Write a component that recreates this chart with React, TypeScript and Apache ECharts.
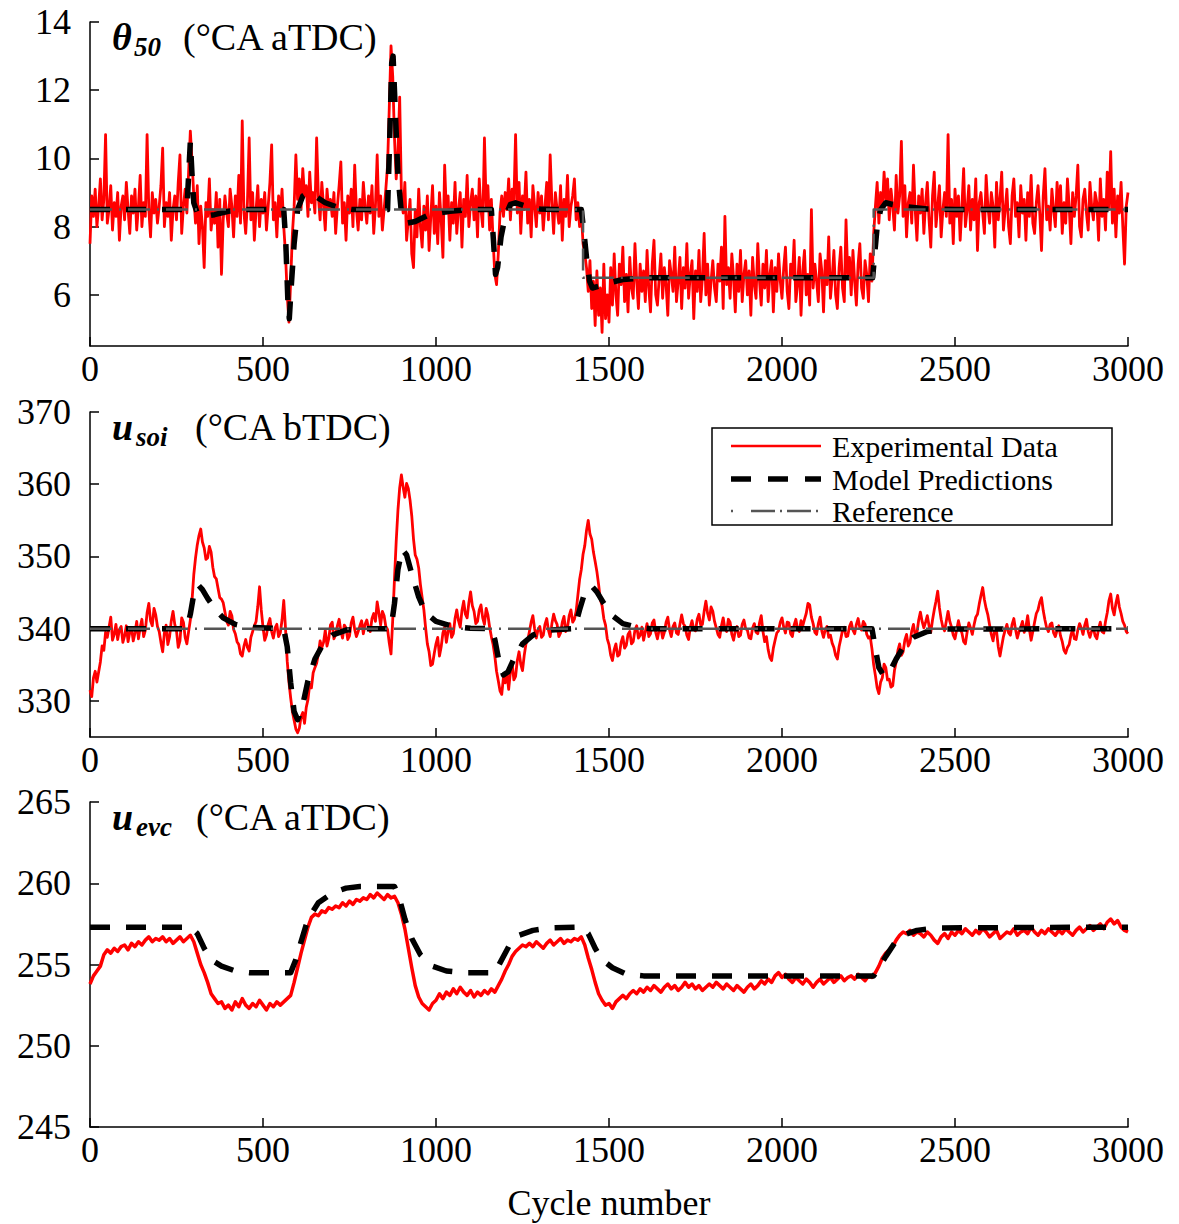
import React, { useEffect, useRef } from 'react';
import * as echarts from 'echarts';

// ---------- DATA ----------
const STEP1 = 5; // cycles between samples, panel 1
const STEP2 = 5; // panel 2
const STEP3 = 10; // panel 3

const xTicks = [0, 500, 1000, 1500, 2000, 2500, 3000];
const y1Ticks = [6, 8, 10, 12, 14];
const y2Ticks = [330, 340, 350, 360, 370];
const y3Ticks = [245, 250, 255, 260, 265];

// theta50 experimental (every 5 cycles)
const theta50Exp = [
  7.5, 8.9, 8.3, 9.1, 8.0, 8.6, 9.4, 8.2, 8.8, 10.7, 8.1, 8.5, 9.2, 7.9, 8.7, 8.3, 9.0, 7.6, 8.6, 8.9,
  8.2, 9.3, 8.5, 7.8, 8.9, 8.4, 9.1, 7.9, 8.6, 9.5, 8.0, 8.7, 8.3, 10.7, 8.5, 7.7, 9.0, 8.4, 8.8, 8.1,
  8.6, 9.2, 10.3, 8.0, 8.7, 8.3, 9.0, 7.6, 8.5, 8.9, 8.2, 9.3, 10.1, 7.8, 8.6, 9.1, 8.4, 9.6, 10.8, 9.9,
  8.9, 8.1, 9.2, 7.5, 8.6, 8.0, 6.8, 8.7, 8.3, 9.4, 7.9, 8.5, 8.1, 9.0, 7.4, 8.8, 6.6, 8.2, 8.9, 8.4,
  8.0, 9.1, 8.6, 7.7, 8.9, 8.3, 9.5, 8.1, 11.1, 8.4, 7.8, 8.7, 10.6, 8.2, 9.0, 7.6, 8.5, 9.2, 8.0, 8.8,
  8.4, 9.0, 7.9, 8.6, 9.3, 10.4, 8.2, 8.7, 7.7, 8.9, 8.3, 9.1, 8.0, 7.2, 6.0, 5.2, 6.4, 7.8, 8.6, 10.1,
  8.8, 9.4, 8.5, 9.7, 8.9, 9.2, 8.3, 9.6, 8.7, 9.0, 8.4, 10.6, 8.9, 8.2, 9.3, 8.6, 7.9, 9.1, 8.5, 8.8,
  8.3, 9.0, 7.8, 8.6, 9.2, 9.9, 8.1, 8.7, 7.6, 8.9, 8.4, 9.1, 8.0, 9.8, 8.5, 7.9, 8.8, 8.2, 9.3, 8.6,
  8.1, 8.9, 8.4, 9.2, 7.8, 8.6, 10.1, 8.3, 8.9, 7.9, 8.5, 9.1, 9.8, 11.5, 13.3, 12.4, 10.6, 9.4, 10.2, 11.8,
  9.0, 8.4, 9.3, 7.6, 8.2, 8.8, 7.2, 6.8, 8.5, 7.7, 9.1, 8.0, 7.4, 8.6, 7.9, 8.9, 7.3, 8.3, 9.2, 7.8,
  8.6, 7.5, 9.0, 8.2, 7.1, 9.8, 8.4, 8.9, 7.6, 8.7, 8.1, 9.3, 7.8, 8.5, 9.0, 7.4, 8.8, 8.3, 9.5, 8.0,
  8.7, 9.1, 8.2, 8.9, 7.7, 9.4, 8.5, 8.0, 10.6, 8.6, 9.2, 7.9, 8.8, 7.6, 6.6, 6.3, 7.2, 8.4, 8.9, 8.3,
  9.0, 8.5, 9.4, 8.2, 9.1, 8.7, 10.7, 8.4, 9.3, 7.8, 8.9, 8.5, 9.6, 8.1, 8.8, 7.7, 9.2, 8.6, 8.0, 9.0,
  8.4, 8.9, 7.9, 8.6, 9.3, 8.2, 10.1, 8.7, 7.8, 9.0, 8.5, 8.1, 9.2, 7.6, 8.8, 8.3, 9.5, 8.0, 8.6, 8.9,
  9.4, 8.2, 8.7, 8.0, 8.4, 7.5, 7.2, 6.8, 6.1, 7.0, 5.6, 6.4, 5.1, 6.7, 5.4, 6.2, 4.9, 6.9, 5.3, 6.0,
  5.2, 6.8, 5.7, 7.2, 6.0, 5.4, 6.9, 6.3, 7.4, 5.8, 6.6, 5.5, 7.1, 6.2, 5.9, 7.5, 6.4, 5.6, 6.9, 6.1,
  6.7, 5.8, 7.3, 6.2, 5.5, 6.9, 7.6, 6.0, 5.7, 6.5, 7.2, 5.9, 6.8, 6.3, 5.4, 7.0, 6.6, 6.1, 7.4, 5.8,
  6.4, 7.1, 5.6, 6.8, 6.2, 7.5, 5.9, 6.6, 7.0, 5.3, 6.7, 6.1, 7.3, 5.8, 6.5, 7.8, 6.0, 6.9, 5.7, 6.4,
  7.0, 6.2, 5.8, 6.9, 6.4, 7.4, 5.6, 8.3, 6.3, 6.8, 5.9, 7.2, 6.5, 5.5, 6.9, 6.1, 7.3, 5.8, 6.6, 7.0,
  6.0, 6.7, 5.4, 7.1, 6.3, 5.9, 7.5, 6.4, 5.7, 6.9, 6.2, 7.3, 5.8, 6.6, 7.0, 5.5, 6.8, 6.1, 7.2, 6.4,
  5.9, 6.8, 7.4, 6.1, 5.6, 6.9, 6.5, 7.6, 5.8, 6.3, 7.1, 5.4, 6.7, 7.3, 6.0, 6.6, 5.7, 8.5, 6.2, 6.9,
  6.4, 5.8, 7.2, 6.7, 5.5, 7.0, 6.3, 7.7, 5.9, 6.5, 7.3, 6.0, 5.6, 6.8, 7.4, 6.2, 5.8, 8.2, 6.6, 7.1,
  6.0, 7.3, 6.4, 5.7, 6.9, 7.5, 6.2, 5.9, 7.0, 6.6, 5.8, 7.2, 6.4, 7.8, 8.6, 9.3, 8.1, 9.0, 8.5, 9.6,
  8.8, 9.4, 8.2, 9.1, 8.6, 7.9, 9.5, 8.4, 8.9, 10.5, 8.3, 9.2, 7.7, 8.7, 9.0, 8.1, 9.8, 8.5, 7.6, 8.9,
  8.4, 9.1, 7.8, 8.7, 9.3, 8.2, 7.4, 8.9, 9.6, 8.0, 8.6, 9.2, 7.7, 8.5, 9.0, 8.3, 10.7, 8.1, 8.8, 7.5,
  9.1, 8.3, 8.9, 7.6, 8.6, 9.7, 8.0, 8.5, 9.2, 7.9, 8.8, 8.2, 9.4, 7.3, 8.7, 9.0, 8.4, 7.8, 9.5, 8.6,
  8.1, 9.0, 8.6, 7.4, 9.3, 8.2, 8.8, 9.6, 7.9, 8.5, 9.1, 8.0, 7.5, 8.9, 9.4, 8.3, 8.7, 7.7, 9.2, 8.4,
  8.8, 7.6, 9.0, 8.3, 9.5, 8.1, 7.8, 8.7, 9.2, 8.4, 7.3, 8.9, 9.7, 8.2, 8.6, 7.9, 9.1, 8.5, 8.0, 9.3,
  8.5, 9.2, 7.8, 8.7, 8.1, 9.4, 8.6, 7.5, 9.0, 8.3, 8.9, 9.8, 8.0, 7.7, 8.8, 9.1, 8.4, 7.9, 9.3, 8.6,
  8.2, 9.0, 8.7, 7.6, 9.4, 8.3, 8.8, 7.9, 9.6, 8.5, 10.2, 8.1, 9.1, 7.7, 8.9, 8.4, 9.3, 8.0, 6.9, 8.6,
  9.0,
];

const theta50Model = [
  [0, 8.5], [280, 8.5], [285, 9.5], [290, 10.5], [295, 9.5], [300, 8.7], [310, 8.4], [330, 8.3], [360, 8.35],
  [400, 8.45], [450, 8.5], [560, 8.5], [566, 7.5], [572, 5.8], [576, 5.3], [582, 6.3], [590, 7.5], [600, 8.5],
  [615, 8.9], [630, 9.0], [650, 8.9], [680, 8.7], [720, 8.55], [760, 8.5], [860, 8.5], [866, 10.5], [872, 12.8],
  [876, 13.0], [882, 11.5], [890, 9.5], [900, 8.4], [915, 8.1], [940, 8.15], [980, 8.35], [1040, 8.45],
  [1100, 8.5], [1160, 8.5], [1166, 7.6], [1172, 6.6], [1178, 6.8], [1188, 7.7], [1200, 8.3], [1215, 8.65],
  [1230, 8.7], [1260, 8.6], [1300, 8.52], [1340, 8.5], [1420, 8.5], [1428, 7.8], [1436, 7.0], [1444, 6.4],
  [1452, 6.2], [1470, 6.25], [1500, 6.35], [1540, 6.45], [1600, 6.5], [2262, 6.5], [2268, 7.2], [2275, 8.0],
  [2285, 8.5], [2300, 8.7], [2320, 8.65], [2360, 8.58], [2420, 8.52], [2500, 8.5], [3000, 8.5],
];

const theta50Ref = [
  [0, 8.5], [1425, 8.5], [1425, 6.5], [2265, 6.5], [2265, 8.5], [3000, 8.5],
];

// u_soi experimental (every 5 cycles)
const usoiExp = [
  331.5, 330.6, 333.2, 334.1, 332.6, 334.0, 335.4, 337.6, 337.0, 339.5, 338.8, 340.2, 341.6, 338.4, 339.2, 340.6, 338.5, 339.9, 340.3, 338.1,
  339.0, 340.4, 338.2, 339.5, 340.1, 338.3, 339.4, 341.0, 338.6, 340.2, 341.3, 338.9, 339.8, 342.2, 343.5, 341.1, 340.4, 342.8, 341.9, 340.3,
  339.6, 338.1, 336.8, 339.4, 340.5, 337.8, 338.9, 341.1, 342.4, 340.6, 339.7, 337.4, 338.3, 341.5, 340.9, 338.8, 337.9, 339.6, 341.2, 344.0,
  347.5, 349.8, 351.6, 352.9, 353.8, 352.0, 351.2, 349.6, 349.8, 351.4, 350.6, 348.5, 347.2, 346.9, 345.6, 344.3, 344.1, 343.6, 342.3, 341.0,
  340.5, 342.4, 341.8, 339.9, 339.3, 338.2, 337.8, 336.5, 336.2, 337.6, 338.5, 337.4, 336.9, 338.8, 339.6, 340.4, 341.0, 343.1, 345.8, 342.6,
  340.2, 338.4, 339.1, 340.6, 341.4, 339.6, 338.7, 340.1, 340.6, 338.9, 339.4, 341.2, 343.9, 340.1, 335.5, 332.6, 330.4, 328.5, 327.3, 326.1,
  325.6, 326.2, 327.8, 328.4, 326.9, 329.1, 330.2, 332.3, 331.8, 333.9, 334.6, 335.2, 336.5, 338.3, 337.4, 338.1, 339.8, 337.6, 338.6, 340.5,
  340.9, 338.6, 339.2, 340.4, 341.3, 339.7, 338.7, 340.5, 340.1, 338.5, 339.0, 340.8, 341.6, 339.9, 338.9, 339.6, 340.4, 341.1, 339.3, 340.6,
  341.2, 340.1, 339.6, 341.4, 342.1, 341.0, 343.7, 342.2, 340.5, 342.4, 341.8, 340.3, 339.9, 338.0, 336.5, 341.3, 346.9, 352.1, 356.4, 359.5,
  361.3, 359.6, 358.2, 360.1, 359.4, 357.8, 355.6, 352.4, 350.2, 349.6, 348.4, 346.1, 344.3, 342.6, 340.1, 337.9, 336.8, 334.9, 335.1, 336.6,
  337.9, 338.8, 336.2, 337.5, 339.4, 340.2, 338.1, 339.6, 340.7, 338.8, 339.3, 341.4, 342.6, 341.1, 340.2, 342.5, 343.8, 342.0, 341.5, 343.6,
  345.1, 343.2, 342.4, 340.7, 341.0, 342.6, 343.3, 341.5, 340.6, 342.8, 341.9, 340.2, 338.9, 337.8, 336.2, 334.1, 332.8, 331.4, 330.9, 333.3,
  332.5, 333.8, 331.6, 334.0, 335.3, 332.9, 333.4, 335.6, 336.8, 335.1, 334.2, 336.3, 337.9, 338.4, 339.6, 340.9, 341.8, 340.0, 338.7, 339.9,
  340.3, 338.8, 339.1, 340.6, 341.4, 339.8, 338.9, 340.7, 342.0, 341.1, 340.6, 338.9, 339.4, 340.9, 341.7, 339.6, 340.2, 341.8, 342.6, 340.9,
  341.3, 342.4, 344.6, 346.8, 348.2, 350.3, 351.5, 353.6, 355.0, 353.1, 352.4, 350.6, 349.3, 347.9, 346.1, 344.0, 343.2, 341.4, 340.5, 338.6,
  337.8, 336.3, 335.6, 337.1, 337.9, 336.2, 336.4, 338.1, 338.9, 337.3, 337.7, 339.2, 339.6, 337.9, 338.2, 339.8, 340.4, 338.7, 339.1, 340.2,
  338.4, 339.6, 340.7, 338.9, 339.3, 340.8, 341.2, 339.5, 338.6, 339.9, 340.1, 338.7, 339.5, 340.9, 341.6, 339.8, 338.9, 340.3, 340.8, 339.4,
  339.2, 340.6, 341.9, 340.7, 340.3, 339.1, 338.5, 340.2, 341.1, 339.9, 339.7, 341.3, 342.0, 340.5, 340.6, 342.4, 343.8, 342.1, 341.2, 343.0,
  342.4, 341.0, 340.1, 339.2, 338.8, 340.4, 341.5, 340.0, 339.6, 341.3, 340.9, 339.2, 338.4, 339.7, 340.3, 338.9, 339.1, 340.6, 341.2, 340.0,
  339.8, 338.7, 338.6, 340.1, 340.7, 339.5, 339.3, 340.8, 341.8, 339.6, 338.2, 338.9, 337.1, 336.0, 335.6, 337.3, 338.4, 339.4, 339.7, 340.9,
  341.5, 340.2, 339.4, 340.9, 340.8, 339.3, 338.9, 340.5, 341.3, 340.0, 339.6, 341.1, 340.4, 341.3, 342.1, 343.5, 343.3, 341.6, 340.7, 339.5,
  339.2, 340.7, 341.6, 339.7, 338.8, 339.9, 340.3, 338.8, 339.1, 338.0, 337.4, 336.3, 335.8, 337.5, 338.6, 339.8, 340.2, 338.9, 339.0, 340.3,
  340.9, 339.8, 339.3, 340.6, 341.4, 340.1, 339.8, 341.0, 340.6, 339.2, 338.7, 338.9, 337.2, 335.0, 333.5, 331.8, 331.0, 332.6, 333.2, 335.1,
  334.6, 332.9, 333.0, 331.9, 332.1, 334.2, 335.4, 337.0, 337.9, 336.3, 336.8, 338.4, 339.2, 337.6, 338.1, 339.7, 340.6, 339.0, 339.4, 341.2,
  342.3, 341.0, 340.1, 340.9, 341.8, 340.4, 339.5, 341.2, 342.6, 343.8, 345.2, 342.9, 341.3, 340.2, 339.7, 341.1, 342.4, 341.0, 340.2, 339.1,
  338.6, 339.9, 341.1, 340.0, 339.4, 338.2, 337.9, 339.5, 340.8, 340.1, 339.2, 340.5, 341.6, 342.0, 343.4, 344.6, 345.7, 344.0, 342.8, 341.9,
  340.5, 339.2, 338.3, 339.9, 339.7, 337.5, 336.2, 337.6, 338.9, 339.8, 340.6, 339.4, 339.1, 340.6, 341.4, 339.9, 338.7, 339.6, 340.2, 341.0,
  339.5, 340.3, 341.8, 339.9, 338.4, 339.6, 340.9, 342.1, 342.6, 343.7, 344.3, 342.5, 341.2, 340.1, 339.6, 340.6, 340.8, 339.4, 338.9, 339.8,
  340.4, 339.0, 338.2, 337.0, 336.6, 337.4, 337.8, 339.1, 339.9, 338.6, 338.5, 339.8, 340.7, 340.1, 339.2, 340.5, 341.3, 339.6, 338.8, 339.7,
  340.1, 339.0, 338.6, 340.0, 340.9, 339.6, 339.4, 341.0, 342.2, 343.9, 344.8, 342.8, 341.9, 343.5, 344.6, 343.0, 342.1, 341.0, 340.5, 339.6,
  339.3,
];

const usoiModel = [
  [0, 340], [280, 340], [290, 342], [300, 344.8], [312, 346.1], [325, 345.4], [340, 344.2], [360, 342.8],
  [385, 341.5], [420, 340.6], [460, 340.2], [560, 340], [570, 337.5], [580, 332.5], [590, 328.5], [600, 327.4],
  [612, 328.8], [630, 332.8], [650, 335.8], [675, 338.0], [700, 339.1], [740, 339.8], [800, 340], [870, 340],
  [880, 343.5], [890, 348.2], [902, 351.0], [915, 350.2], [930, 347.6], [950, 344.4], [970, 342.2], [1000, 341.0],
  [1050, 340.3], [1100, 340.05], [1160, 340], [1170, 338.5], [1182, 335.5], [1195, 333.6], [1208, 334.0],
  [1225, 335.8], [1250, 337.9], [1280, 339.1], [1320, 339.8], [1400, 340], [1415, 342.6], [1430, 345.0],
  [1450, 345.9], [1465, 345.1], [1485, 343.5], [1510, 341.8], [1540, 340.7], [1580, 340.2], [1620, 340],
  [2260, 340], [2270, 337.2], [2280, 334.6], [2295, 333.4], [2310, 333.9], [2330, 335.8], [2350, 337.4],
  [2380, 338.8], [2420, 339.6], [2470, 339.95], [3000, 340],
];

const usoiRef = [[0, 340], [3000, 340]];

// u_evc experimental (every 10 cycles)
const uevcExp = [
  253.8, 254.3, 254.6, 254.9, 255.6, 255.9, 255.7, 256.0, 255.8, 256.1, 256.2, 255.9, 256.3, 256.1, 256.4, 256.2, 256.5, 256.7, 256.4, 256.6,
  256.5, 256.7, 256.4, 256.6, 256.3, 256.5, 256.7, 256.4, 256.6, 256.8, 256.4, 255.7, 255.0, 254.5, 253.9, 253.2, 252.9, 252.6, 252.7, 252.3,
  252.5, 252.2, 252.7, 252.4, 252.9, 252.5, 252.3, 252.6, 252.4, 252.8, 252.5, 252.2, 252.6, 252.4, 252.7, 252.5, 252.7, 252.9, 253.1, 253.9,
  254.8, 255.7, 256.5, 257.3, 257.9, 258.1, 258.0, 258.3, 258.2, 258.5, 258.4, 258.6, 258.5, 258.8, 258.6, 258.9, 258.7, 259.0, 258.9, 259.1,
  259.0, 259.3, 259.1, 259.4, 259.2, 259.0, 259.3, 259.1, 259.2, 258.8, 258.1, 257.2, 256.0, 254.8, 253.7, 253.0, 252.6, 252.4, 252.2, 252.6,
  252.8, 253.2, 252.9, 253.3, 253.1, 253.5, 253.2, 253.6, 253.3, 253.1, 253.4, 253.0, 253.3, 253.1, 253.4, 253.2, 253.5, 253.3, 253.7, 254.1,
  254.6, 255.0, 255.5, 255.8, 256.0, 256.2, 256.1, 256.3, 256.1, 256.4, 256.2, 256.0, 256.3, 256.5, 256.2, 256.4, 256.6, 256.3, 256.5, 256.4,
  256.6, 256.5, 256.7, 256.2, 255.4, 254.7, 253.9, 253.2, 252.8, 252.5, 252.6, 252.3, 252.7, 252.9, 253.1, 252.9, 253.2, 253.4, 253.2, 253.5,
  253.3, 253.6, 253.4, 253.7, 253.5, 253.3, 253.6, 253.8, 253.5, 253.7, 253.4, 253.6, 253.9, 253.6, 253.8, 253.5, 253.7, 253.4, 253.6, 253.8,
  253.6, 253.9, 253.7, 253.5, 253.8, 253.6, 253.4, 253.7, 253.5, 253.3, 253.6, 253.8, 253.5, 253.7, 254.0, 253.8, 254.1, 253.9, 254.3, 254.5,
  254.2, 254.4, 254.1, 253.9, 254.2, 254.0, 253.8, 254.1, 253.9, 253.6, 253.9, 254.1, 253.8, 254.0, 254.2, 253.9, 254.1, 254.3, 254.0, 254.2,
  254.3, 254.1, 254.4, 254.2, 254.0, 254.3, 254.2, 254.5, 254.9, 255.4, 255.7, 255.9, 256.1, 256.5, 256.8, 257.0, 256.9, 257.1, 256.8, 257.0,
  256.9, 256.7, 257.0, 256.8, 256.5, 256.3, 256.7, 256.9, 256.6, 257.0, 256.8, 257.1, 256.9, 257.2, 257.0, 256.8, 257.1, 256.9, 257.2, 257.0,
  256.7, 256.9, 257.1, 256.6, 256.8, 257.0, 256.9, 257.2, 256.8, 257.0, 257.1, 256.9, 257.3, 257.0, 256.8, 257.1, 256.9, 257.2, 257.0, 256.8,
  257.1, 256.9, 257.2, 257.0, 256.8, 257.1, 257.3, 257.0, 257.2, 257.4, 257.1, 257.3, 257.5, 257.2, 257.6, 257.8, 257.5, 257.7, 257.3, 257.1,
  257.0,
];

const uevcModel = [
  [0, 257.3], [290, 257.3], [310, 256.9], [330, 256.0], [350, 255.3], [380, 254.9], [420, 254.6], [460, 254.5],
  [580, 254.5], [595, 255.3], [610, 256.4], [630, 257.8], [660, 258.8], [700, 259.4], [740, 259.7], [780, 259.8],
  [880, 259.8], [895, 259.0], [910, 257.8], [930, 256.6], [955, 255.6], [990, 254.9], [1030, 254.6], [1080, 254.5],
  [1170, 254.5], [1185, 255.1], [1210, 256.1], [1240, 256.8], [1280, 257.1], [1330, 257.25], [1420, 257.3],
  [1440, 256.9], [1460, 256.0], [1480, 255.3], [1510, 254.8], [1550, 254.4], [1600, 254.3], [2265, 254.3],
  [2280, 254.8], [2300, 255.5], [2325, 256.3], [2350, 256.8], [2390, 257.1], [2450, 257.25], [3000, 257.3],
];

const legendLabels = ['Experimental Data', 'Model Predictions', 'Reference'];

// ---------- STYLE ----------
const FONT = 'Liberation Serif';
const RED = '#ff0000';
const GRAY = '#555555';
const MODEL_DASH = [20, 16];
const REF_DASH = [22, 7, 2, 7];

const withX = (vals: number[], step: number) => vals.map((v, i) => [i * step, v]);

const axisLineStyle = { color: '#000', width: 1.5 };

function makeX(gridIndex: number, name?: string) {
  return {
    type: 'value',
    gridIndex,
    min: 0,
    max: 3000,
    interval: 500,
    axisLine: { show: true, onZero: false, lineStyle: axisLineStyle },
    axisTick: { show: true, inside: true, length: 9, lineStyle: axisLineStyle, customValues: xTicks },
    axisLabel: {
      fontFamily: FONT, fontSize: 36, color: '#000', margin: 5, customValues: xTicks,
      formatter: (v: number) => String(v),
    },
    splitLine: { show: false },
    name: name || '',
    nameLocation: 'middle',
    nameGap: 58,
    nameTextStyle: { fontFamily: FONT, fontSize: 36, color: '#000', verticalAlign: 'top' },
  };
}

function makeY(gridIndex: number, min: number, max: number, ticks: number[]) {
  return {
    type: 'value',
    gridIndex,
    min,
    max,
    axisLine: { show: true, onZero: false, lineStyle: axisLineStyle },
    axisTick: { show: true, inside: true, length: 9, lineStyle: axisLineStyle, customValues: ticks },
    axisLabel: {
      fontFamily: FONT, fontSize: 36, color: '#000', margin: 19, customValues: ticks,
      formatter: (v: number) => String(v),
    },
    splitLine: { show: false },
  };
}

function line(data: number[][], idx: number, color: string, width: number, type: any, z: number) {
  return {
    type: 'line',
    xAxisIndex: idx,
    yAxisIndex: idx,
    data,
    symbol: 'none',
    showSymbol: false,
    silent: true,
    z,
    itemStyle: { color },
    lineStyle: { color, width, type, cap: 'butt', join: 'round' },
  };
}

function title(x: number, yMid: number, main: string, sub: string, subX: number, rest: string, restX: number) {
  return [
    {
      type: 'text', x, y: yMid, z: 50,
      style: { text: main, fill: '#000', font: `italic bold 38px "${FONT}"`, verticalAlign: 'middle' },
    },
    {
      type: 'text', x: subX, y: yMid + 10, z: 50,
      style: { text: sub, fill: '#000', font: `italic bold 27px "${FONT}"`, verticalAlign: 'middle' },
    },
    {
      type: 'text', x: restX, y: yMid, z: 50,
      style: { text: rest, fill: '#000', font: `38px "${FONT}"`, verticalAlign: 'middle' },
    },
  ];
}

export default function App() {
  const ref = useRef<HTMLDivElement>(null);

  useEffect(() => {
    document.body.style.margin = '0';
    if (!ref.current) return;
    const chart = echarts.init(ref.current, undefined, { renderer: 'svg' });

    const legendX = 712;
    const legendY = 428;
    const legendRows = [446, 479, 511];

    const option: any = {
      animation: false,
      backgroundColor: '#fff',
      grid: [
        { left: 90, top: 22, width: 1038, height: 324 },
        { left: 90, top: 412, width: 1038, height: 325 },
        { left: 90, top: 802, width: 1038, height: 325 },
      ],
      xAxis: [makeX(0), makeX(1), makeX(2, 'Cycle number')],
      yAxis: [
        makeY(0, 4.5, 14, y1Ticks),
        makeY(1, 325, 370, y2Ticks),
        makeY(2, 245, 265, y3Ticks),
      ],
      series: [
        line(withX(theta50Exp, STEP1), 0, RED, 2.8, 'solid', 2),
        line(theta50Model, 0, '#000', 5.5, MODEL_DASH, 3),
        line(theta50Ref, 0, GRAY, 2.5, REF_DASH, 4),
        line(withX(usoiExp, STEP2), 1, RED, 2.8, 'solid', 2),
        line(usoiModel, 1, '#000', 5.5, MODEL_DASH, 3),
        line(usoiRef, 1, GRAY, 2.5, REF_DASH, 4),
        line(withX(uevcExp, STEP3), 2, RED, 3.5, 'solid', 2),
        line(uevcModel, 2, '#000', 5.5, MODEL_DASH, 3),
      ],
      graphic: [
        ...title(112, 37, 'θ', '50', 134, '(°CA aTDC)', 183),
        ...title(112, 427, 'u', 'soi', 136, '(°CA bTDC)', 195),
        ...title(112, 817, 'u', 'evc', 136, '(°CA aTDC)', 196),
        {
          type: 'rect', z: 60,
          shape: { x: legendX, y: legendY, width: 400, height: 97 },
          style: { fill: '#fff', stroke: '#000', lineWidth: 1.5 },
        },
        {
          type: 'line', z: 61,
          shape: { x1: 731, y1: legendRows[0], x2: 821, y2: legendRows[0] },
          style: { stroke: RED, lineWidth: 2.5 },
        },
        {
          type: 'line', z: 61,
          shape: { x1: 731, y1: legendRows[1], x2: 821, y2: legendRows[1] },
          style: { stroke: '#000', lineWidth: 5.5, lineDash: [20, 17] },
        },
        {
          type: 'line', z: 61,
          shape: { x1: 731, y1: legendRows[2], x2: 821, y2: legendRows[2] },
          style: { stroke: GRAY, lineWidth: 2.5, lineDash: [2, 18, 24, 5, 2, 5, 24, 5] },
        },
        ...legendLabels.map((t, i) => ({
          type: 'text', z: 62, x: 832, y: legendRows[i],
          style: {
            text: t, fill: '#000', font: `30px "${FONT}"`, lineHeight: 30,
            verticalAlign: 'middle',
          },
        })),
      ],
    };

    chart.setOption(option);
    return () => chart.dispose();
  }, []);

  return <div ref={ref} style={{ width: 1179, height: 1224 }} />;
}
